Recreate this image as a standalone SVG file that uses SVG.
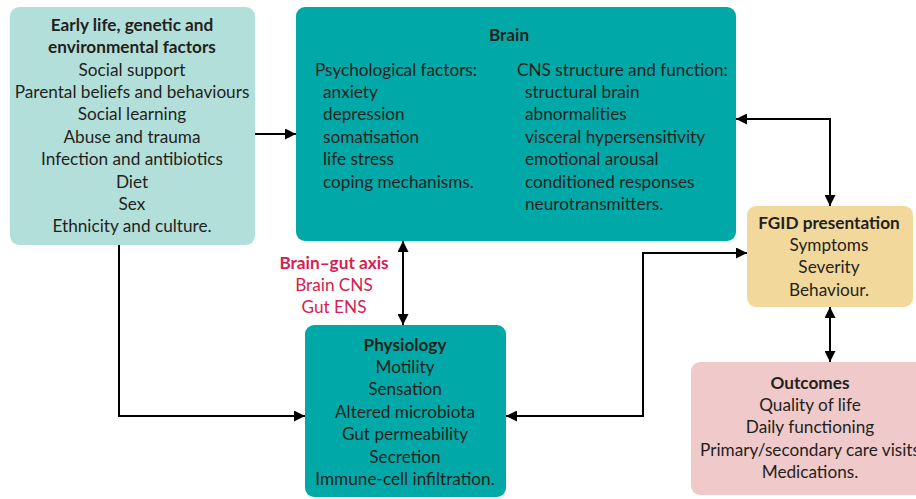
<svg xmlns="http://www.w3.org/2000/svg" width="916" height="499" viewBox="0 0 916 499">
<defs>
<marker id="ah" viewBox="0 0 10 10" refX="10" refY="5" markerWidth="11" markerHeight="11" markerUnits="userSpaceOnUse" orient="auto-start-reverse">
<path d="M0,0 L10,5 L0,10 z" fill="#000"/>
</marker>
<style>
text{font-family:Lato,"Liberation Sans",sans-serif;font-size:17.2px;fill:#231f20}
.c{text-anchor:middle}
.b{font-weight:bold}
.r{fill:#d6204f}
.ln{fill:none;stroke:#000;stroke-width:2}
</style>
</defs>
<rect width="916" height="499" fill="#fff"/>
<g id="early">
<rect x="10" y="7" width="245" height="238" rx="9" fill="#b3dfdb"/>
<text class="c b" x="132" y="31">Early life, genetic and</text>
<text class="c b" x="132" y="53">environmental factors</text>
<text class="c" x="132" y="76">Social support</text>
<text class="c" x="132" y="98">Parental beliefs and behaviours</text>
<text class="c" x="132" y="120">Social learning</text>
<text class="c" x="132" y="143">Abuse and trauma</text>
<text class="c" x="132" y="165">Infection and antibiotics</text>
<text class="c" x="132" y="188">Diet</text>
<text class="c" x="132" y="210">Sex</text>
<text class="c" x="132" y="232">Ethnicity and culture.</text>
</g>
<g id="brain">
<rect x="296" y="7" width="440" height="234" rx="9" fill="#00a9a7"/>
<text class="c b" x="509" y="41">Brain</text>
<text x="315" y="76">Psychological factors:</text>
<text x="323" y="98">anxiety</text>
<text x="323" y="120">depression</text>
<text x="323" y="143">somatisation</text>
<text x="323" y="165">life stress</text>
<text x="323" y="188">coping mechanisms.</text>
<text x="517" y="76">CNS structure and function:</text>
<text x="525" y="98">structural brain</text>
<text x="525" y="120">abnormalities</text>
<text x="525" y="143">visceral hypersensitivity</text>
<text x="525" y="165">emotional arousal</text>
<text x="525" y="188">conditioned responses</text>
<text x="525" y="210">neurotransmitters.</text>
</g>
<g id="axis">
<text class="c b r" x="334" y="269">Brain–gut axis</text>
<text class="c r" x="334" y="291">Brain CNS</text>
<text class="c r" x="334" y="313">Gut ENS</text>
</g>
<g id="physiology">
<rect x="305" y="325" width="201" height="172" rx="9" fill="#00a9a7"/>
<text class="c b" x="405" y="351">Physiology</text>
<text class="c" x="405" y="373">Motility</text>
<text class="c" x="405" y="395">Sensation</text>
<text class="c" x="405" y="418">Altered microbiota</text>
<text class="c" x="405" y="440">Gut permeability</text>
<text class="c" x="405" y="463">Secretion</text>
<text class="c" x="405" y="485">Immune-cell infiltration.</text>
</g>
<g id="fgid">
<rect x="747" y="206" width="166" height="101" rx="9" fill="#f2d99b"/>
<text class="c b" x="829" y="229">FGID presentation</text>
<text class="c" x="829" y="251">Symptoms</text>
<text class="c" x="829" y="273">Severity</text>
<text class="c" x="829" y="296">Behaviour.</text>
</g>
<g id="outcomes">
<rect x="691" y="362" width="240" height="133" rx="9" fill="#f0c9ca"/>
<text class="c b" x="810" y="389">Outcomes</text>
<text class="c" x="810" y="411">Quality of life</text>
<text class="c" x="810" y="433">Daily functioning</text>
<text class="c" x="810" y="456">Primary/secondary care visits</text>
<text class="c" x="810" y="478">Medications.</text>
</g>
<g id="connectors">
<path class="ln" d="M255,134 H296" marker-end="url(#ah)"/>
<path class="ln" d="M119,245 V416 H305" marker-end="url(#ah)"/>
<path class="ln" d="M403,241 V325" marker-start="url(#ah)" marker-end="url(#ah)"/>
<path class="ln" d="M506,416 H643 V253 H747" marker-start="url(#ah)" marker-end="url(#ah)"/>
<path class="ln" d="M736,119 H830 V206" marker-start="url(#ah)" marker-end="url(#ah)"/>
<path class="ln" d="M830,307 V362" marker-start="url(#ah)" marker-end="url(#ah)"/>
</g>
</svg>
